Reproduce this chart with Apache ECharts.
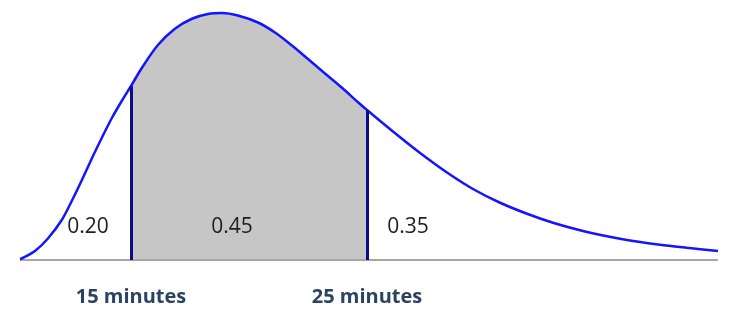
<!DOCTYPE html>
<html>
<head>
<meta charset="utf-8">
<script src="https://cdn.jsdelivr.net/npm/echarts@6/dist/echarts.min.js"></script>
<style>
html,body{margin:0;padding:0;background:#fff;}
#chart{width:735px;height:318px;}
</style>
</head>
<body>
<div id="chart"></div>
<script>
// Waiting time (minutes) and relative density
const minutes = [10.30,10.93,11.48,12.08,12.50,12.92,13.35,13.77,14.19,14.62,15.00,15.47,16.14,16.86,17.58,18.26,18.86,19.53,20.38,21.10,21.82,22.50,23.22,23.94,24.62,25.00,26.10,27.25,28.39,29.49,30.64,31.78,32.88,34.03,35.17,36.27,37.42,38.56,39.87];
const density = [0.3,3.6,8.6,16.2,23.8,32.0,40.8,49.0,56.8,63.8,69.6,77.0,86.0,92.5,96.5,98.4,98.8,97.8,95.0,91.0,85.8,80.4,74.6,68.9,63.1,60.0,51.4,42.8,35.0,28.4,22.9,18.5,14.9,11.9,9.5,7.6,6.1,4.9,3.6];
const cutoffs = [15, 25];
const tickLabels = ['15 minutes', '25 minutes'];
const areaProbs = ['0.20', '0.45', '0.35'];

const curve = minutes.map((m, i) => [m, density[i]]);
const shaded = curve.filter(p => p[0] >= cutoffs[0] && p[0] <= cutoffs[1]);
const heightAt = c => density[minutes.indexOf(c)];
const labelX = [13.18, 19.28, 26.74];
const labelY = 13.2;

const chart = echarts.init(document.getElementById('chart'));
chart.setOption({
  animation: false,
  grid: {left: 13, right: 14, top: 10, bottom: 58},
  xAxis: {
    type: 'value', min: 10, max: 40,
    axisLine: {show: false}, axisTick: {show: false}, splitLine: {show: false},
    axisLabel: {
      customValues: cutoffs,
      formatter: v => tickLabels[cutoffs.indexOf(v)] || '',
      margin: 27,
      fontFamily: 'Open Sans', fontWeight: 'bold', fontSize: 20, color: '#2b4260'
    }
  },
  yAxis: {type: 'value', min: 0, max: 100, show: false},
  series: [
    {
      type: 'line', data: shaded, smooth: 0.3, symbol: 'none', z: 1,
      lineStyle: {width: 0}, areaStyle: {color: '#c6c6c6', opacity: 1}
    },
    {
      type: 'line', data: [[minutes[0], 0], [minutes[minutes.length - 1], 0]],
      symbol: 'none', z: 2, lineStyle: {color: '#a6a6a6', width: 2}
    },
    {
      type: 'line', data: curve, smooth: 0.3, symbol: 'none', z: 4,
      lineStyle: {color: '#1414ff', width: 2.5},
      markLine: {
        symbol: 'none', silent: true, label: {show: false},
        lineStyle: {color: '#0a0a8c', width: 3, type: 'solid'},
        data: cutoffs.map(c => [{coord: [c, 0]}, {coord: [c, heightAt(c)]}])
      }
    },
    {
      type: 'scatter', symbolSize: 0, z: 5,
      itemStyle: {opacity: 1},
      data: areaProbs.map((p, i) => ({value: [labelX[i], labelY], name: p})),
      label: {
        show: true, position: 'inside', formatter: d => d.name, opacity: 1,
        fontFamily: 'Open Sans', fontSize: 21, color: '#1e1e1e'
      }
    }
  ]
});
</script>
</body>
</html>
